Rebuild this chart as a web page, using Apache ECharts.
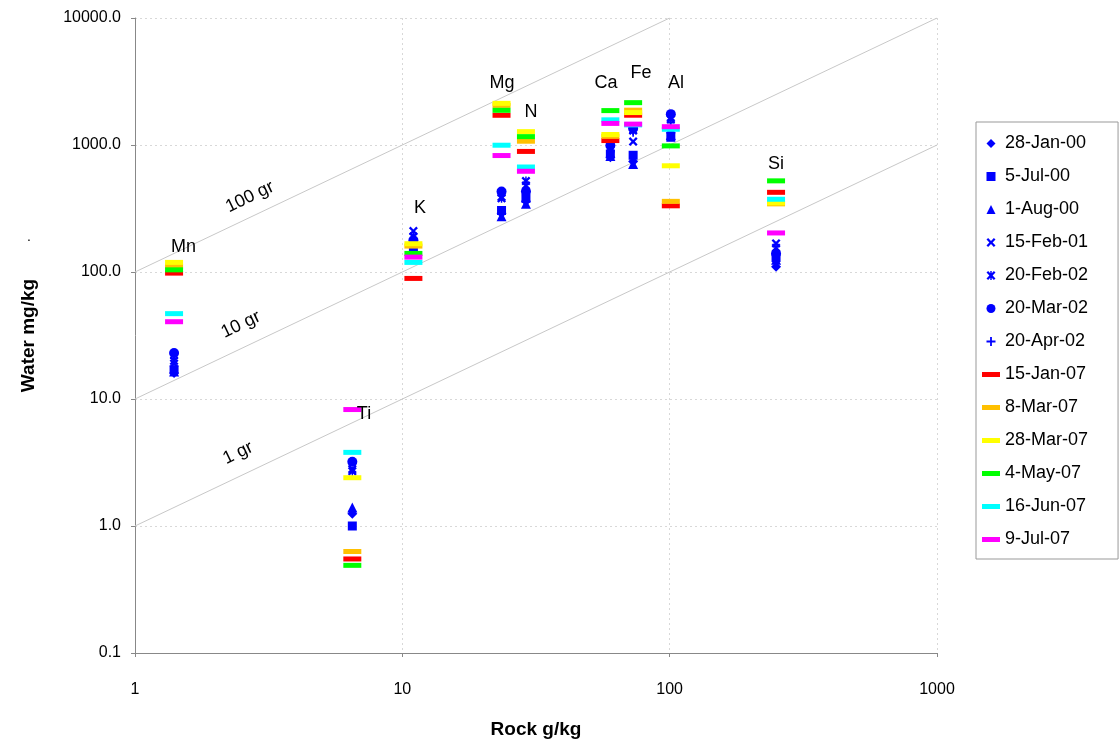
<!DOCTYPE html>
<html>
<head>
<meta charset="utf-8">
<script src="https://cdn.jsdelivr.net/npm/echarts@6/dist/echarts.min.js"></script>
<style>html,body{margin:0;padding:0;background:#fff}#c{width:1120px;height:744px}</style>
</head>
<body>
<div id="c"></div>
<script>
// ---- data ----
const elements   = ['Mn', 'Ti', 'K', 'Mg', 'N', 'Ca', 'Fe', 'Al', 'Si'];
const rockValues = [1.4, 6.5, 11, 23.5, 29, 60, 73, 101, 250];

const dates = ['28-Jan-00','5-Jul-00','1-Aug-00','15-Feb-01','20-Feb-02','20-Mar-02','20-Apr-02',
               '15-Jan-07','8-Mar-07','28-Mar-07','4-May-07','16-Jun-07','9-Jul-07'];

//                 Mn    Ti    K    Mg    N     Ca    Fe    Al    Si
const jan28_00 = [16,   1.25, 145, 290,  360,  800,  740,  1250, 110];
const jul05_00 = [17,   1.0,  151, 305,  380,  850,  830,  1150, 130];
const aug01_00 = [16.5, 1.4,  150, 275,  345,  820,  710,  1200, 125];
const feb15_01 = [19,   2.8,  210, 390,  480,  950,  1065, 1600, 168];
const feb20_02 = [20,   2.7,  190, 380,  520,  930,  1300, 1650, 155];
const mar20_02 = [23,   3.2,  178, 430,  430,  990,  1350, 1750, 140];
const apr20_02 = [21,   1.3,  160, 400,  400,  900,  1250, 1500, 145];
const jan15_07 = [98,   0.55, 89,  1714, 890,  1084, 1716, 332,  424];
const mar08_07 = [111,  0.63, 160, 2050, 1071, 1170, 1880, 360,  344];
const mar28_07 = [119,  2.4,  167, 2128, 1274, 1210, 1800, 686,  350];
const may04_07 = [104,  0.49, 140, 1876, 1164, 1866, 2155, 984,  522];
const jun16_07 = [47,   3.8,  119, 996,  671,  1578, 1440, 1330, 374];
const jul09_07 = [40.6, 8.26, 131, 826,  621,  1479, 1460, 1394, 203];

const seriesValues = [jan28_00, jul05_00, aug01_00, feb15_01, feb20_02, mar20_02, apr20_02,
                      jan15_07, mar08_07, mar28_07, may04_07, jun16_07, jul09_07];

// element label anchor points (data units)
const elementLabelX = [1.52, 7.19, 11.65, 23.6, 30.3, 57.8, 78.2, 105.7, 250];
const elementLabelY = [157, 7.6, 317, 3085, 1832, 3085, 3690, 3085, 709];

// reference lines: water = factor * rock
const refFactors = [1, 10, 100];
const refNames   = ['1 gr', '10 gr', '100 gr'];
const refLabelX  = [2.43, 2.49, 2.69];
const refLabelY  = [3.75, 38.5, 390];

const yTicks = [0.1, 1, 10, 100, 1000, 10000];
const xTicks = [1, 10, 100, 1000];

// ---- styles ----
const FONT = 'Liberation Sans, Arial, sans-serif';
const BLUE = '#0000FF';
const dashColors = ['#FF0000', '#FFC000', '#FFFF00', '#00FF00', '#00FFFF', '#FF00FF'];
const diamondPath = 'path://M0.5,0L1,0.5L0.5,1L0,0.5Z';
const rectPath = 'path://M0,0H1V1H0Z';
const triPath = 'path://M0.5,0L1,1L0,1Z';
const circlePath = 'path://M0,0.5A0.5,0.5,0,1,1,1,0.5A0.5,0.5,0,1,1,0,0.5Z';
const xPath = 'path://M0,0.18L0.18,0L0.5,0.32L0.82,0L1,0.18L0.68,0.5L1,0.82L0.82,1L0.5,0.68L0.18,1L0,0.82L0.32,0.5Z';
const astPath = 'path://M0,0.18L0.18,0L0.5,0.32L0.82,0L1,0.18L0.68,0.5L1,0.82L0.82,1L0.5,0.68L0.18,1L0,0.82L0.32,0.5Z M0.42,0H0.58V1H0.42Z';
const plusPath = 'path://M0.4,0H0.6V0.4H1V0.6H0.6V1H0.4V0.6H0V0.4H0.4Z';
const dashPath = 'path://M0,0H18V5H0Z';
const blueSymbols = ['diamond', 'rect', 'triangle', xPath, astPath, 'circle', plusPath];
const blueLegendIcons = [diamondPath, rectPath, triPath, xPath, astPath, circlePath, plusPath];
const blueSizes   = [10, 9, 10, 9, 9, 10, 8];

const series = [];
const legendData = [];

// reference lines
refFactors.forEach((f, i) => {
  const xEnd = Math.min(1000, 10000 / f);
  series.push({
    type: 'line', silent: true, symbol: 'none', z: 1,
    lineStyle: { color: '#c8c8c8', width: 1 },
    data: [[1, f], [xEnd, f * xEnd]]
  });
  series.push({
    type: 'scatter', silent: true, symbolSize: 0, z: 1,
    itemStyle: { opacity: 1 },
    label: { show: true, position: 'inside', formatter: refNames[i], rotate: 25.7,
             fontSize: 18, color: '#000', fontFamily: FONT },
    data: [[refLabelX[i], refLabelY[i]]]
  });
});

dates.forEach((d, si) => {
  const vals = seriesValues[si];
  const data = rockValues.map((x, i) => [x, vals[i]]);
  if (si < 7) {
    series.push({
      name: d, type: 'scatter', data, z: 3,
      symbol: blueSymbols[si], symbolSize: blueSizes[si],
      itemStyle: { color: BLUE, opacity: 1 }
    });
    legendData.push({ name: d, icon: blueLegendIcons[si] });
  } else {
    series.push({
      name: d, type: 'scatter', data, z: 3,
      symbol: 'rect', symbolSize: [18, 5],
      itemStyle: { color: dashColors[si - 7], opacity: 1 }
    });
    legendData.push({ name: d, icon: dashPath });
  }
});

// element labels
series.push({
  type: 'scatter', silent: true, symbolSize: 0, z: 4,
  itemStyle: { opacity: 1 },
  label: { show: true, position: 'inside', formatter: p => elements[p.dataIndex],
           fontSize: 18, color: '#000', fontFamily: FONT },
  data: elementLabelX.map((x, i) => [x, elementLabelY[i]])
});

const chart = echarts.init(document.getElementById('c'), null, { renderer: 'canvas' });
chart.setOption({
  animation: false,
  backgroundColor: '#fff',
  textStyle: { fontFamily: FONT },
  grid: { left: 135, right: 183, top: 18, bottom: 84, containLabel: false },
  xAxis: {
    type: 'log', logBase: 10, min: xTicks[0], max: xTicks[xTicks.length - 1],
    name: 'Rock g/kg', nameLocation: 'middle', nameGap: 67,
    nameTextStyle: { fontSize: 19, fontWeight: 'bold', color: '#000', fontFamily: FONT },
    axisLine: { lineStyle: { color: '#888', width: 1 } },
    axisTick: { show: true, length: 4, lineStyle: { color: '#888' } },
    axisLabel: { fontSize: 16, color: '#000', margin: 29, fontFamily: FONT,
                 formatter: v => String(Math.round(v)) },
    splitLine: { show: true, lineStyle: { color: '#d8d8d8', type: [2, 3] } },
    minorTick: { show: false }
  },
  yAxis: {
    type: 'log', logBase: 10, min: yTicks[0], max: yTicks[yTicks.length - 1],
    name: 'Water mg/kg', nameLocation: 'middle', nameGap: 97,
    nameTextStyle: { fontSize: 19, fontWeight: 'bold', color: '#000', fontFamily: FONT },
    axisLine: { show: true, lineStyle: { color: '#888', width: 1 } },
    axisTick: { show: true, length: 4, lineStyle: { color: '#888' } },
    axisLabel: { fontSize: 16, color: '#000', margin: 14, fontFamily: FONT,
                 formatter: v => Number(v).toFixed(1) },
    splitLine: { show: true, lineStyle: { color: '#d8d8d8', type: [2, 3] } }
  },
  legend: {
    orient: 'vertical', left: 976, top: 122,
    data: legendData,
    itemWidth: 18, itemHeight: 9, itemGap: 14,
    padding: [12, 30, 10, 6],
    borderColor: '#999', borderWidth: 1,
    textStyle: { fontSize: 18, color: '#000', fontFamily: FONT, lineHeight: 19 },
    selectedMode: false
  },
  graphic: [{
    type: 'text', left: 27, top: 230,
    style: { text: '.', fontSize: 14, fill: '#000', font: '14px Liberation Sans' }
  }],
  series
});
</script>
</body>
</html>
